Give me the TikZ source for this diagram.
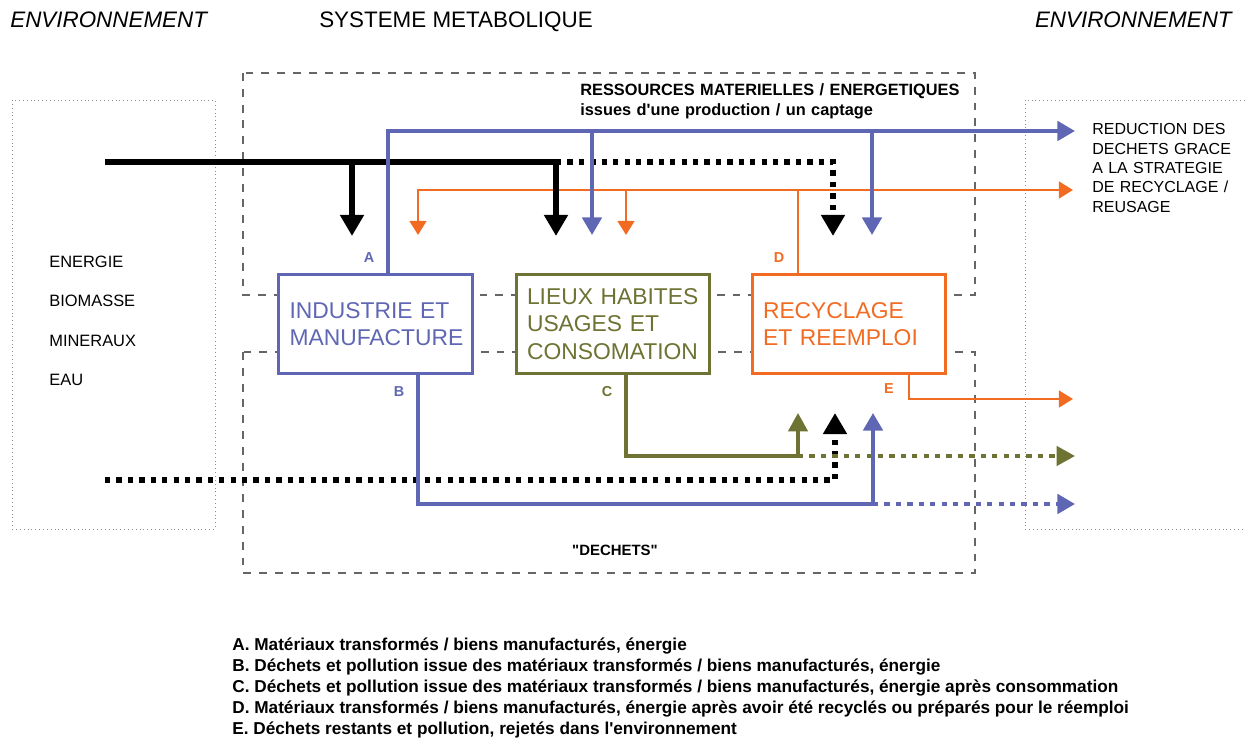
\documentclass[tikz,border=0pt]{standalone}
\usepackage{fontspec}
\setmainfont{Liberation Sans}[Ligatures=TeXOff]
\usetikzlibrary{arrows.meta}
\definecolor{metblue}{HTML}{5F67B4}
\definecolor{metolive}{HTML}{6E7232}
\definecolor{metorange}{HTML}{F26B22}

\begin{document}
\begin{tikzpicture}[x=0.02cm, y=-0.02cm,
  every node/.style = {inner sep=0pt},
  zone/.style = {draw=black!60, line width=0.75pt, dash pattern=on 4.5pt off 4.5pt},
  envzone/.style = {draw=black!45, line width=0.4pt, dash pattern=on 0.5pt off 1.7pt},
  unit/.style = {draw, fill=white, line width=1.8pt, minimum width=3.87cm,
    minimum height=1.98cm, text width=3.44cm, align=left,
    font=\fontsize{13}{15.6}\selectfont},
  heading/.style = {font=\fontsize{12.75}{15}\selectfont},
  small/.style = {anchor=base west, align=left, font=\fontsize{9.1}{11}\selectfont},
  tag/.style = {font=\fontsize{8.2}{9}\selectfont\bfseries},
  blkflow/.style = {line width=3pt, -{Triangle[width=13pt,length=12pt]}},
  bluflow/.style = {metblue, line width=2.2pt, -{Triangle[width=11pt,length=10pt]}},
  oliflow/.style = {metolive, line width=2pt, -{Triangle[width=11pt,length=10.5pt]}},
  oraflow/.style = {metorange, line width=1.4pt, -{Triangle[width=9.5pt,length=8pt]}},
  dots/.style = {dash pattern=on 3pt off 3.5pt}]
  \useasboundingbox (0,0) rectangle (1245,742);

  \node[heading, anchor=base west, font=\fontsize{12.75}{15}\selectfont\itshape] (envleft) at (10,28) {ENVIRONNEMENT};
  \node[heading, anchor=base] (sysmet) at (456,28) {SYSTEME METABOLIQUE};
  \node[heading, anchor=base east, font=\fontsize{12.75}{15}\selectfont\itshape] (envright) at (1232,28) {ENVIRONNEMENT};

  \draw[envzone] (12,100) rectangle (215,529);
  \draw[envzone] (1245,100) -| (1025,529) -- (1245,529);
  \draw[zone] (243,73) rectangle (975,295);
  \draw[zone] (243,352) rectangle (975,573);

  \node[small, text width=8cm, font=\fontsize{9.3}{11}\selectfont\bfseries] (ressrc) at (580,96)
    {RESSOURCES MATERIELLES / ENERGETIQUES\\ issues d'une production / un captage};
  \node[small, text width=3.2cm] (reduc) at (1092,135)
    {REDUCTION DES\\ DECHETS GRACE\\ A LA STRATEGIE\\ DE RECYCLAGE /\\ REUSAGE};
  \node[anchor=base, font=\fontsize{8.5}{10}\selectfont\bfseries] (waste) at (615,556) {"DECHETS"};
  \foreach \w [count=\i] in {ENERGIE,BIOMASSE,MINERAUX,EAU}
    \node[small, font=\fontsize{9.35}{11}\selectfont] (src\i) at (49,228+39.5*\i) {\w};

  \node[unit, draw=metblue, text=metblue] (ind) at (375.5,324) {INDUSTRIE ET\\ MANUFACTURE};
  \node[unit, draw=metolive, text=metolive] (lieux) at (613,324) {LIEUX HABITES\\ USAGES ET\\ CONSOMATION};
  \node[unit, draw=metorange, text=metorange] (recy) at (849,324) {RECYCLAGE\\ ET REEMPLOI};

  \node[tag, text=metblue] (tagA) at (369,258) {A};
  \node[tag, text=metblue] (tagB) at (399,392) {B};
  \node[tag, text=metolive] (tagC) at (607,392) {C};
  \node[tag, text=metorange] (tagD) at (779,258) {D};
  \node[tag, text=metorange] (tagE) at (889,389) {E};

  \coordinate (srcTop) at (105,162);
  \coordinate (srcLow) at (105,480);
  \coordinate (blkA) at (352,236);
  \coordinate (blkC) at (556,236);
  \coordinate (blkR) at (833,236);
  \coordinate (blkUp) at (835,413);
  \coordinate (aRise) at (388,131);
  \coordinate (redOut) at (1075,131);
  \coordinate (bluC) at (592,235);
  \coordinate (bluR) at (872,235);
  \coordinate (dRise) at (798,190);
  \coordinate (dOut) at (1073,190);
  \coordinate (oraA) at (418,235);
  \coordinate (oraC) at (626,235);
  \coordinate (eDrop) at (909,399);
  \coordinate (eOut) at (1073,399);
  \coordinate (cDrop) at (626,456);
  \coordinate (cUp) at (798,413);
  \coordinate (cOut) at (1075,456);
  \coordinate (bDrop) at (418,504);
  \coordinate (bUp) at (873,413);
  \coordinate (bOut) at (1075,504);

  \draw[oraflow] (recy.north -| dRise) -- (dRise) -- (dOut);
  \draw[oraflow] (dRise) -| (oraA);
  \draw[oraflow] (oraC |- dRise) -- (oraC);
  \draw[oraflow] (recy.south -| eDrop) |- (eOut);

  \draw[line width=3pt] (srcTop) -- (blkC |- srcTop);
  \draw[blkflow] (blkA |- srcTop) -- (blkA);
  \draw[blkflow] (blkC |- srcTop) -- (blkC);
  \draw[blkflow, dots] (blkC |- srcTop) -| (blkR);
  \draw[blkflow, dots] (srcLow) -| (blkUp);

  \draw[oliflow] (lieux.south -| cDrop) |- (cUp |- cDrop) -- (cUp);
  \draw[oliflow, dots] (cUp |- cDrop) -- (cOut);

  \draw[bluflow] (ind.north -| aRise) |- (redOut);
  \draw[bluflow] (bluC |- aRise) -- (bluC);
  \draw[bluflow] (bluR |- aRise) -- (bluR);
  \draw[bluflow] (ind.south -| bDrop) |- (bUp |- bDrop) -- (bUp);
  \draw[bluflow, dots] (bUp |- bDrop) -- (bOut);

  \foreach \txt [count=\i] in {{A. Matériaux transformés / biens manufacturés, énergie},
      {B. Déchets et pollution issue des matériaux transformés / biens manufacturés, énergie},
      {C. Déchets et pollution issue des matériaux transformés / biens manufacturés, énergie après consommation},
      {D. Matériaux transformés / biens manufacturés, énergie après avoir été recyclés ou préparés pour le réemploi},
      {E. Déchets restants et pollution, rejetés dans l'environnement}}
    \node[anchor=base west, font=\fontsize{9.8}{11}\selectfont\bfseries] (leg\i) at (232,630+21*\i) {\txt};
\end{tikzpicture}
\end{document}
